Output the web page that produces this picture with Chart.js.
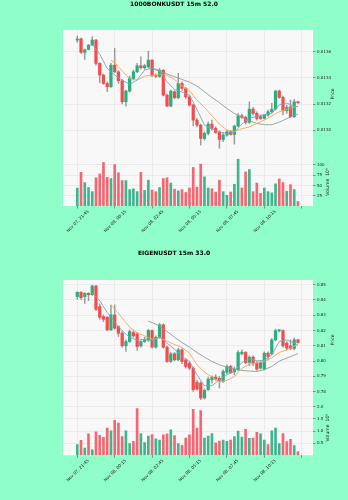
<!DOCTYPE html>
<html>
<head>
<meta charset="utf-8">
<script src="https://cdn.jsdelivr.net/npm/chart.js@4.4.0/dist/chart.umd.min.js"></script>
<style>
    html, body { margin: 0; padding: 0; background: #8ffec8; }
    #hoja { position: relative; width: 348px; height: 500px; }
    .panel { position: absolute; left: 0; width: 348px; height: 250px; }
</style>
</head>
<body>
<div id="hoja">
    <div class="panel" style="top:0"><canvas id="bonk" width="348" height="250"></canvas></div>
    <div class="panel" style="top:250px"><canvas id="eigen" width="348" height="250"></canvas></div>
</div>
<script>
const xTicks = [0, 10, 20, 30, 40, 50, 60];
const xTickLabels = ["Nov 07, 21:45", "Nov 08, 00:15", "Nov 08, 02:45", "Nov 08, 05:15", "Nov 08, 07:45", "Nov 08, 10:15", ""];

// 1000BONKUSDT
const bonkOpen = [0.013689,0.013699,0.013595,0.013618,0.013651,0.013689,0.013511,0.013422,0.013358,0.013333,
    0.013498,0.013447,0.013379,0.013218,0.013300,0.013396,0.013447,0.013493,0.013478,0.013485,
    0.013536,0.013417,0.013412,0.013458,0.013269,0.013185,0.013295,0.013249,0.013358,0.013320,
    0.013256,0.013193,0.013078,0.013040,0.012938,0.012977,0.013048,0.013015,0.012984,0.012931,
    0.012964,0.012989,0.012969,0.013033,0.013111,0.013099,0.013061,0.013162,0.013129,0.013104,
    0.013091,0.013117,0.013142,0.013162,0.013300,0.013251,0.013150,0.013180,0.013104,0.013218];
const bonkClose = [0.013697,0.013595,0.013615,0.013651,0.013689,0.013511,0.013422,0.013358,0.013333,0.013498,
    0.013447,0.013379,0.013218,0.013300,0.013396,0.013447,0.013493,0.013478,0.013493,0.013536,
    0.013417,0.013412,0.013458,0.013269,0.013185,0.013300,0.013249,0.013358,0.013320,0.013256,
    0.013193,0.013078,0.013040,0.012938,0.012977,0.013048,0.013015,0.012984,0.012931,0.012964,
    0.012989,0.012969,0.013033,0.013111,0.013099,0.013061,0.013162,0.013129,0.013091,0.013091,
    0.013117,0.013142,0.013162,0.013300,0.013251,0.013150,0.013175,0.013104,0.013218,0.013211];
const bonkHigh = [0.013720,0.013704,0.013620,0.013656,0.013715,0.013694,0.013516,0.013430,0.013368,0.013511,
    0.013625,0.013455,0.013389,0.013307,0.013414,0.013460,0.013511,0.013562,0.013503,0.013605,
    0.013541,0.013430,0.013473,0.013465,0.013277,0.013307,0.013302,0.013435,0.013371,0.013328,
    0.013269,0.013201,0.013091,0.013048,0.012989,0.013066,0.013078,0.013027,0.012997,0.012977,
    0.013002,0.012997,0.013040,0.013129,0.013124,0.013109,0.013218,0.013175,0.013142,0.013117,
    0.013122,0.013155,0.013206,0.013307,0.013307,0.013262,0.013193,0.013231,0.013236,0.013223];
const bonkLow = [0.013671,0.013587,0.013541,0.013613,0.013646,0.013498,0.013363,0.013351,0.013295,0.013328,
    0.013440,0.013358,0.013201,0.013185,0.013292,0.013384,0.013440,0.013468,0.013465,0.013478,
    0.013409,0.013404,0.013404,0.013262,0.013180,0.013180,0.013241,0.013241,0.013307,0.013244,
    0.013185,0.013033,0.013027,0.012888,0.012926,0.012964,0.013002,0.012977,0.012862,0.012913,
    0.012956,0.012964,0.012895,0.013027,0.013091,0.013048,0.013053,0.013117,0.013078,0.013083,
    0.013086,0.013109,0.013134,0.013155,0.013244,0.013117,0.013129,0.013099,0.013099,0.013206];
const bonkVolume = [43.5,82,57,45,35,69,78,106,70,67, 101,81,62,62,40,42,35,82,38,63,
    39,35,45,67,69,56,41,37,40,33, 44,94,46,102,71,44,42,34,63,35,
    26,34,53,114,44,83,89,35,56,31, 44,35,32,54,66,57,36,52,40,11];
const bonkMaFast = [[4,0.013656],[6,0.013582],[8,0.013473],[10,0.013422],[12,0.013384],[14,0.013351],[16,0.013384],[18,0.013460],
    [20,0.013475],[22,0.013458],[24,0.013371],[26,0.013312],[28,0.013292],[30,0.013269],[32,0.013160],[34,0.013040],
    [36,0.013010],[38,0.012989],[40,0.012977],[42,0.012984],[44,0.013048],[46,0.013091],[48,0.013109],[50,0.013119],
    [52,0.013129],[54,0.013195],[56,0.013208],[58,0.013185],[59,0.013180]];
const bonkMaMid = [[9,0.013536],[10,0.013516],[12,0.013455],[14,0.013394],[16,0.013384],[18,0.013415],[20,0.013419],[22,0.013430],
    [24,0.013419],[26,0.013389],[28,0.013338],[30,0.013302],[32,0.013231],[34,0.013175],[36,0.013111],[38,0.013048],
    [40,0.013002],[42,0.012992],[44,0.013012],[46,0.013027],[48,0.013053],[50,0.013078],[52,0.013111],[54,0.013142],
    [56,0.013160],[58,0.013178],[59,0.013183]];
const bonkMaSlow = [[19,0.013478],[20,0.013473],[22,0.013450],[24,0.013430],[26,0.013409],[28,0.013389],[30,0.013368],[32,0.013338],
    [34,0.013295],[36,0.013251],[38,0.013211],[40,0.013167],[42,0.013129],[44,0.013099],[46,0.013073],[48,0.013053],
    [50,0.013043],[52,0.013043],[54,0.013063],[56,0.013089],[58,0.013114],[59,0.013124]];
const bonkPriceTicks = [0.0130, 0.0132, 0.0134, 0.0136];
const bonkVolumeTicks = [25, 50, 75, 100];

// EIGENUSDT
const eigenOpen = [0.84218,0.84500,0.84218,0.84435,0.84348,0.84913,0.83565,0.82913,0.82870,0.82044,
    0.83022,0.82261,0.81826,0.81000,0.81283,0.81870,0.81783,0.81000,0.81283,0.81391,
    0.82000,0.80913,0.81565,0.82370,0.80913,0.79978,0.80478,0.80087,0.80739,0.80087,
    0.79870,0.79543,0.78609,0.78565,0.77587,0.78130,0.78783,0.78957,0.78870,0.78674,
    0.79261,0.79652,0.79304,0.79435,0.80478,0.80565,0.79913,0.80261,0.79870,0.79543,
    0.79478,0.80522,0.80478,0.81391,0.81978,0.82000,0.81174,0.81000,0.80826,0.81391];
const eigenClose = [0.84500,0.84152,0.84435,0.84348,0.84913,0.83392,0.82870,0.82739,0.82044,0.83022,
    0.82152,0.81826,0.81000,0.81283,0.81935,0.81652,0.80957,0.81283,0.81391,0.82000,
    0.80913,0.81565,0.82370,0.80913,0.79978,0.80478,0.80087,0.80739,0.79978,0.79652,
    0.79543,0.78130,0.78174,0.77587,0.78087,0.78826,0.78957,0.78826,0.78739,0.79326,
    0.79652,0.79261,0.79478,0.80565,0.80587,0.79913,0.80261,0.79870,0.79478,0.79913,
    0.80522,0.80304,0.81391,0.82000,0.82044,0.81000,0.80848,0.80826,0.81391,0.81218];
const eigenHigh = [0.84544,0.84544,0.84478,0.84478,0.84957,0.84957,0.83739,0.83022,0.82913,0.83674,
    0.83674,0.82305,0.81935,0.81391,0.82044,0.82000,0.81870,0.81348,0.81565,0.82087,
    0.82044,0.81652,0.82478,0.82435,0.81000,0.80565,0.80565,0.80848,0.80826,0.80174,
    0.79978,0.79609,0.78739,0.78652,0.78174,0.78957,0.79043,0.79109,0.79000,0.79435,
    0.79761,0.79739,0.79609,0.80696,0.80739,0.80631,0.80348,0.80348,0.79978,0.79978,
    0.80609,0.80609,0.81478,0.82087,0.82087,0.82044,0.81283,0.81391,0.81500,0.81435];
const eigenLow = [0.84044,0.84044,0.83783,0.83957,0.84305,0.83305,0.82739,0.82587,0.82000,0.82000,
    0.82087,0.81609,0.80913,0.80631,0.81218,0.81565,0.80696,0.80913,0.81218,0.81283,
    0.80848,0.80848,0.81500,0.80848,0.79913,0.79913,0.80022,0.80022,0.79826,0.79543,
    0.79435,0.78022,0.78087,0.77478,0.77522,0.78087,0.78565,0.78739,0.78239,0.78609,
    0.79174,0.79174,0.79109,0.79370,0.80413,0.79826,0.79696,0.79696,0.79391,0.79478,
    0.79435,0.80087,0.80413,0.81326,0.81913,0.80913,0.80739,0.80739,0.80739,0.81174];
const eigenVolume = [0.44,0.62,0.30,0.88,0.23,0.97,0.82,0.74,1.12,1.01, 1.44,1.33,0.77,1.01,0.48,0.58,1.92,0.89,0.52,0.79,
    0.85,0.68,0.63,0.84,0.88,1.05,0.81,0.48,0.41,0.71, 0.84,1.89,1.12,1.84,0.71,0.79,0.89,0.51,0.59,0.63,
    0.58,0.63,0.77,1.00,0.75,1.07,0.70,0.71,0.95,0.88, 0.63,0.44,1.01,1.12,0.48,0.89,0.56,0.66,0.40,0.15];
const eigenMaFast = [[4,0.84435],[6,0.83957],[8,0.83174],[10,0.82565],[12,0.81978],[14,0.81565],[16,0.81370],[18,0.81435],
    [20,0.81326],[22,0.81609],[24,0.81174],[26,0.80783],[28,0.80304],[30,0.79978],[32,0.79109],[34,0.78391],
    [36,0.78391],[38,0.78783],[40,0.79109],[42,0.79326],[44,0.79913],[46,0.80152],[48,0.80022],[50,0.80044],
    [52,0.80413],[54,0.81283],[56,0.81391],[58,0.81174],[59,0.81065]];
const eigenMaMid = [[9,0.83652],[10,0.83413],[12,0.82826],[14,0.82218],[16,0.81870],[18,0.81652],[20,0.81435],[22,0.81522],
    [24,0.81304],[26,0.81087],[28,0.80891],[30,0.80522],[32,0.79761],[34,0.79283],[36,0.78957],[38,0.78652],
    [40,0.78739],[42,0.79000],[44,0.79522],[46,0.79804],[48,0.79870],[50,0.79978],[52,0.80217],[54,0.80565],
    [56,0.80739],[58,0.80978],[59,0.81065]];
const eigenMaSlow = [[19,0.82609],[20,0.82522],[22,0.82305],[24,0.81935],[26,0.81565],[28,0.81218],[30,0.80913],[32,0.80565],
    [34,0.80261],[36,0.79978],[38,0.79761],[40,0.79609],[42,0.79478],[44,0.79391],[46,0.79348],[48,0.79326],
    [50,0.79435],[52,0.79652],[54,0.80000],[56,0.80196],[58,0.80391],[59,0.80500]];
const eigenPriceTicks = [0.78, 0.79, 0.80, 0.81, 0.82, 0.83, 0.84, 0.85];
const eigenVolumeTicks = [0.5, 1.0, 1.5, 2.0];

const FUENTE = "'DejaVu Sans', sans-serif";
const VERDE = "#2aae7e", ROJO = "#f44b4b", MECHA = "#9a9a9a";
const VOL_VERDE = "#3db68e", VOL_ROJO = "#f56670";
const COLORES_MA = ["#7ba3c4", "#f2a65a", "#8c9c98"];
const REJILLA = "#e2e2e2";

const fondoGrafica = {
    id: "fondoGrafica",
    beforeDraw(chart) {
        const { ctx, chartArea: a } = chart;
        ctx.save();
        ctx.fillStyle = "#f8f8f8";
        ctx.fillRect(a.left, a.top, a.right - a.left, a.bottom - a.top);
        ctx.restore();
    }
};

// titulo centrado en la figura y titulos de eje girados como en matplotlib
const rotulosEje = {
    id: "rotulosEje",
    afterDraw(chart, args, opts) {
        const { ctx, scales } = chart;
        ctx.save();
        ctx.fillStyle = "#000";
        ctx.font = "bold 6px " + FUENTE;
        ctx.textAlign = "center";
        ctx.textBaseline = "middle";
        ctx.fillText(opts.titulo, chart.width / 2, opts.yTitulo);

        ctx.fillStyle = "#222";
        ctx.font = "4.6px " + FUENTE;
        [[scales.y, opts.precio, opts.xPrecio], [scales.yv, opts.volumen, opts.xVolumen]].forEach(([s, texto, x]) => {
            ctx.save();
            ctx.translate(x, (s.top + s.bottom) / 2);
            ctx.rotate(-Math.PI / 2);
            ctx.fillText(texto, 0, 0);
            ctx.restore();
        });
        ctx.restore();
    }
};

function graficar(id, p) {
    const idx = p.open.map((_, i) => i);
    const sube = idx.map(i => p.close[i] >= p.open[i]);
    const linea = (puntos, color) => ({
        type: "line",
        data: puntos.map(([x, y]) => ({ x, y })),
        borderColor: color,
        borderWidth: 0.9,
        pointRadius: 0,
        tension: 0,
        yAxisID: "y",
        order: 1
    });

    new Chart(document.getElementById(id), {
        type: "bar",
        data: {
            datasets: [
                linea(p.maFast, COLORES_MA[0]),
                linea(p.maMid, COLORES_MA[1]),
                linea(p.maSlow, COLORES_MA[2]),
                {
                    data: idx.map(i => ({ x: i, y: [p.open[i], p.close[i]] })),
                    backgroundColor: idx.map(i => sube[i] ? VERDE : ROJO),
                    barThickness: 2.6,
                    minBarLength: 0.8,
                    grouped: false,
                    yAxisID: "y",
                    order: 3
                },
                {
                    data: idx.map(i => ({ x: i, y: [p.low[i], p.high[i]] })),
                    backgroundColor: MECHA,
                    barThickness: 0.8,
                    grouped: false,
                    yAxisID: "y",
                    order: 4
                },
                {
                    data: idx.map(i => ({ x: i, y: p.volume[i] })),
                    backgroundColor: idx.map(i => sube[i] ? VOL_VERDE : VOL_ROJO),
                    barThickness: 2,
                    grouped: false,
                    yAxisID: "yv",
                    order: 5
                }
            ]
        },
        options: {
            responsive: false,
            animation: false,
            events: [],
            layout: { padding: { left: 63, right: 0, top: 30, bottom: 0 } },
            plugins: {
                legend: { display: false },
                tooltip: { enabled: false },
                title: { display: false },
                rotulosEje: {
                    titulo: p.titulo, yTitulo: p.yTitulo,
                    precio: "Price", volumen: p.rotuloVolumen, xPrecio: 333, xVolumen: 328
                }
            },
            scales: {
                x: {
                    type: "linear",
                    min: -3.82,
                    max: 63.02,
                    offset: false,
                    afterBuildTicks: s => { s.ticks = xTicks.map(v => ({ value: v })); },
                    afterFit: s => { s.height = p.altoEjeX; },
                    border: { display: false },
                    grid: { color: REJILLA, lineWidth: 0.6, offset: false, tickLength: 2.5, tickColor: "#555", tickWidth: 0.6 },
                    ticks: {
                        autoSkip: false,
                        minRotation: 45,
                        maxRotation: 45,
                        padding: 0.5,
                        labelOffset: 11,
                        color: "#222",
                        font: { family: FUENTE, size: 4.2 },
                        callback: (v, i) => xTickLabels[i]
                    }
                },
                y: {
                    position: "right",
                    stack: "panel",
                    stackWeight: p.pesoPrecio,
                    min: p.precioMin,
                    max: p.precioMax,
                    afterBuildTicks: s => { s.ticks = p.preciosTicks.map(v => ({ value: v })); },
                    afterFit: s => { s.width = 35; },
                    border: { display: false },
                    grid: { color: REJILLA, lineWidth: 0.6, tickLength: 2.5, tickColor: "#555", tickWidth: 0.6 },
                    ticks: { padding: 1.5, color: "#222", font: { family: FUENTE, size: 4 }, callback: v => v.toFixed(p.decimales) }
                },
                yv: {
                    position: "right",
                    stack: "panel",
                    stackWeight: p.pesoVolumen,
                    min: 0,
                    max: p.volumenMax,
                    afterBuildTicks: s => { s.ticks = p.volumenTicks.map(v => ({ value: v })); },
                    afterFit: s => { s.width = 35; },
                    border: { display: false },
                    grid: { color: REJILLA, lineWidth: 0.6, tickLength: 2.5, tickColor: "#555", tickWidth: 0.6 },
                    ticks: { padding: 1.5, color: "#222", font: { family: FUENTE, size: 4 }, callback: v => p.decVolumen ? v.toFixed(p.decVolumen) : String(v) }
                }
            }
        },
        plugins: [fondoGrafica, rotulosEje]
    });
}

graficar("bonk", {
    titulo: "1000BONKUSDT 15m 52.0", yTitulo: 4.8,
    open: bonkOpen, high: bonkHigh, low: bonkLow, close: bonkClose, volume: bonkVolume,
    maFast: bonkMaFast, maMid: bonkMaMid, maSlow: bonkMaSlow,
    preciosTicks: bonkPriceTicks, volumenTicks: bonkVolumeTicks,
    precioMin: 0.012789, precioMax: 0.013766, volumenMax: 117,
    pesoPrecio: 128, pesoVolumen: 48, altoEjeX: 44,
    decimales: 4, decVolumen: 0, rotuloVolumen: "Volume  10\u2076"
});

graficar("eigen", {
    titulo: "EIGENUSDT 15m 33.0", yTitulo: 3.6,
    open: eigenOpen, high: eigenHigh, low: eigenLow, close: eigenClose, volume: eigenVolume,
    maFast: eigenMaFast, maMid: eigenMaMid, maSlow: eigenMaSlow,
    preciosTicks: eigenPriceTicks, volumenTicks: eigenVolumeTicks,
    precioMin: 0.77457, precioMax: 0.85307, volumenMax: 2.276,
    pesoPrecio: 120, pesoVolumen: 55.3, altoEjeX: 44.7,
    decimales: 2, decVolumen: 1, rotuloVolumen: "Volume  10\u2076"
});
</script>
</body>
</html>
